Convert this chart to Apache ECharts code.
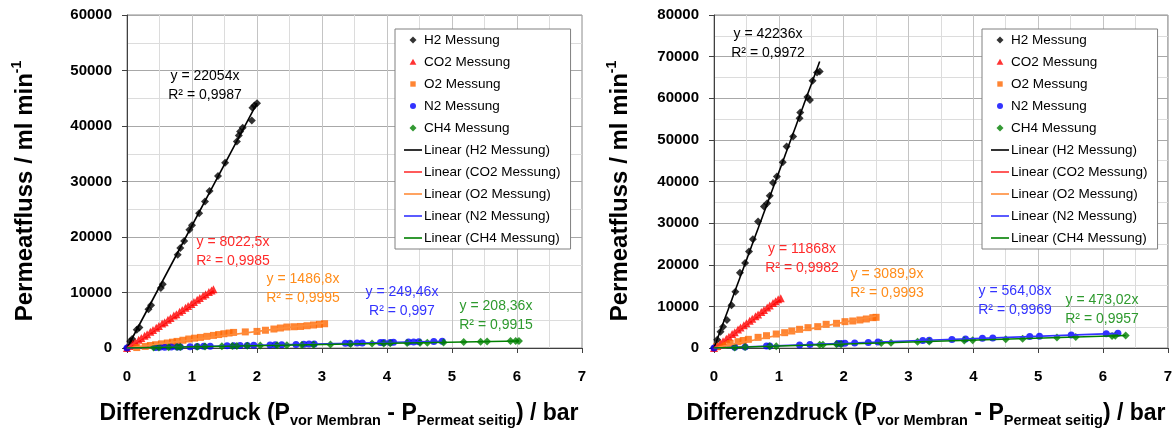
<!DOCTYPE html>
<html>
<head>
<meta charset="utf-8">
<script src="https://cdn.jsdelivr.net/npm/echarts@6/dist/echarts.min.js"></script>
<style>
  html, body { margin: 0; padding: 0; background: #ffffff; }
  #chart { width: 1175px; height: 430px; }
</style>
</head>
<body>
<div id="chart"></div>
<script>
// ---- measured permeate flow vs. pressure difference ----
const gasNames = ['H2 Messung', 'CO2 Messung', 'O2 Messung', 'N2 Messung', 'CH4 Messung'];
const xTickValues = [0, 1, 2, 3, 4, 5, 6, 7];

// left panel: [pressure difference (bar), permeate flow (ml/min)]
const leftH2 = [[0,0],[0.05,1200],[0.08,1600],[0.15,3300],[0.19,3700],[0.33,7000],[0.37,7700],[0.52,10800],[0.55,11500],[0.78,16800],[0.82,18000],[0.88,19300],[0.96,21300],[1.0,22100],[1.11,24300],[1.2,26400],[1.27,28300],[1.4,31000],[1.51,33400],[1.69,37200],[1.72,38300],[1.74,39000],[1.78,39700],[1.92,41000],[1.93,43300],[1.96,43700],[2.0,44100]];
const leftCO2 = [[0,0],[0.04,350],[0.09,760],[0.13,1050],[0.18,1480],[0.22,1800],[0.27,2200],[0.31,2500],[0.36,2950],[0.4,3250],[0.45,3650],[0.49,3950],[0.54,4400],[0.58,4650],[0.63,5100],[0.67,5400],[0.72,5850],[0.76,6100],[0.81,6550],[0.85,6850],[0.9,7250],[0.94,7550],[0.99,7950],[1.03,8300],[1.08,8700],[1.12,9000],[1.17,9400],[1.21,9700],[1.26,10100],[1.3,10350],[1.33,10600]];
const leftO2 = [[0.15,80],[0.28,290],[0.36,450],[0.44,590],[0.53,750],[0.62,900],[0.7,1050],[0.77,1190],[0.86,1400],[0.95,1620],[1.04,1770],[1.13,1910],[1.23,2100],[1.33,2270],[1.41,2420],[1.49,2570],[1.57,2700],[1.64,2810],[1.82,2900],[2.0,2990],[2.13,3200],[2.26,3420],[2.36,3600],[2.46,3780],[2.57,3830],[2.67,3880],[2.77,4010],[2.87,4140],[2.96,4260],[3.04,4370]];
const leftN2 = [[0,0],[0.44,90],[0.5,130],[0.58,140],[0.68,170],[0.77,190],[0.82,200],[0.97,240],[1.08,270],[1.18,300],[1.28,320],[1.54,390],[1.64,410],[1.74,430],[1.85,470],[1.95,490],[2.2,550],[2.28,570],[2.38,600],[2.6,650],[2.72,680],[2.8,700],[2.88,720],[3.36,840],[3.43,860],[3.54,880],[3.62,900],[3.9,980],[3.95,990],[4.05,1010],[4.1,1020],[4.33,1080],[4.41,1100],[4.49,1120],[4.72,1180],[4.85,1210]];
const leftCH4 = [[0.41,80],[0.49,100],[0.64,130],[0.77,160],[0.82,170],[1.08,220],[1.2,250],[1.46,300],[1.62,340],[1.69,350],[1.85,390],[2.05,430],[2.31,480],[2.46,510],[2.69,560],[2.87,600],[3.13,650],[3.44,720],[3.77,790],[3.95,820],[4.05,840],[4.31,900],[4.51,940],[4.62,960],[4.87,1010],[5.18,1080],[5.44,1130],[5.54,1150],[5.9,1240],[5.98,1260],[6.03,1270]];

// right panel
const rightH2 = [[0,0],[0.05,2000],[0.1,3900],[0.14,5100],[0.2,6700],[0.27,10300],[0.33,13500],[0.4,18100],[0.48,20400],[0.54,23200],[0.6,26100],[0.68,30400],[0.77,34000],[0.82,34800],[0.86,36600],[0.91,39700],[0.97,41200],[1.06,44600],[1.12,48400],[1.22,50800],[1.32,55200],[1.33,56600],[1.44,60300],[1.48,59600],[1.52,64200],[1.59,66200],[1.63,66400]];
const rightCO2 = [[0,0],[0.05,500],[0.1,1150],[0.14,1600],[0.19,2250],[0.23,2700],[0.28,3350],[0.32,3800],[0.37,4450],[0.41,4900],[0.46,5450],[0.5,5950],[0.55,6550],[0.59,7000],[0.64,7600],[0.68,8050],[0.73,8650],[0.77,9100],[0.82,9700],[0.86,10200],[0.91,10800],[0.95,11250],[0.99,11700],[1.03,11950]];
const rightO2 = [[0.04,310],[0.14,720],[0.25,1120],[0.37,1520],[0.45,1800],[0.53,2080],[0.68,2560],[0.81,2960],[0.96,3360],[1.09,3680],[1.2,4080],[1.32,4490],[1.45,4890],[1.6,5130],[1.73,5690],[1.89,5930],[2.02,6330],[2.14,6490],[2.25,6730],[2.35,6970],[2.45,7290],[2.5,7370]];
const rightN2 = [[0,0],[0.32,180],[0.48,270],[0.81,460],[0.86,480],[1.32,740],[1.48,830],[1.91,1080],[1.96,1100],[2.02,1140],[2.17,1220],[2.38,1340],[2.53,1430],[3.22,1820],[3.32,1870],[3.67,2070],[3.88,2190],[4.14,2340],[4.3,2420],[4.87,2750],[5.02,2830],[5.51,3110],[6.05,3450],[6.23,3540]];
const rightCH4 = [[0.32,150],[0.48,230],[0.86,410],[0.96,450],[1.63,770],[1.68,790],[1.89,890],[1.96,930],[2.58,1220],[2.73,1290],[3.14,1490],[3.32,1570],[3.86,1830],[3.99,1890],[4.5,2130],[4.76,2250],[5.29,2500],[5.58,2640],[6.14,2900],[6.19,2930],[6.35,3000]];

// fitted slopes (trend line through the origin) and coefficients of determination
const slopesLeft = [22054, 8022.5, 1486.8, 249.46, 208.36];
const r2Left = ['0,9987', '0,9985', '0,9995', '0,997', '0,9915'];
const slopesRight = [42236, 11868, 3089.9, 564.08, 473.02];
const r2Right = ['0,9972', '0,9982', '0,9993', '0,9969', '0,9957'];

const yMaxLeft = 60000;
const yMaxRight = 80000;

// ---- styling ----
const FONT = 'Arial, "Liberation Sans", sans-serif';
const markerColors = ['#000000', '#ff0000', '#ff6600', '#0000ff', '#008000'];
const trendColors = ['#000000', '#ff3333', '#ff8c3a', '#3333ff', '#008000'];
const labelColors = ['#000000', '#ff2a2a', '#ff8c1a', '#3333ff', '#2e9a2e'];
const markerShapes = ['diamond', 'triangle', 'rect', 'circle', 'diamond'];
const markerSizes = [8, 8, 7, 7, 8];
// legend icons drawn inside an 18x14 box (the two leading moves fix the box)
const legendIcons = [
  'path://M0,0M18,14M9,3.5L12.5,7L9,10.5L5.5,7Z',
  'path://M0,0M18,14M9,3.8L12.4,9.8L5.6,9.8Z',
  'path://M0,0M18,14M6.3,4.3H11.7V9.7H6.3Z',
  'path://M0,0M18,14M12,7A3,3,0,1,1,6,7A3,3,0,1,1,12,7Z',
  'path://M0,0M18,14M9,3.5L12.5,7L9,10.5L5.5,7Z'
];
const legendLineIcon = 'path://M0,0M18,14M0,6.2H18V7.8H0Z';
// equation label anchor (centre x, top y) per gas
const eqPosLeft = [[205, 67], [233, 233], [303, 270], [402, 283], [496, 297]];
const eqPosRight = [[768, 25], [802, 240], [887, 265], [1015, 282], [1102, 291]];

const panels = [
  { data: [leftH2, leftCO2, leftO2, leftN2, leftCH4], slopes: slopesLeft, r2: r2Left, yMax: yMaxLeft, gridLeft: 127, eqPos: eqPosLeft, yTitleX: 25 },
  { data: [rightH2, rightCO2, rightO2, rightN2, rightCH4], slopes: slopesRight, r2: r2Right, yMax: yMaxRight, gridLeft: 714, eqPos: eqPosRight, yTitleX: 620 }
];

const grids = [], xAxes = [], yAxes = [], series = [], legends = [], graphics = [];

function fmtNumber(v) { return String(v).replace('.', ','); }

panels.forEach((p, i) => {
  grids.push({ left: p.gridLeft, top: 15, width: 455, height: 333, show: true,
    borderColor: '#8c8c8c', borderWidth: 1, backgroundColor: '#ffffff' });

  xAxes.push({
    gridIndex: i, type: 'value', min: xTickValues[0], max: xTickValues[xTickValues.length - 1], interval: 1,
    axisLine: { show: true, onZero: false, lineStyle: { color: '#404040', width: 1 } },
    axisTick: { show: true, length: 5, lineStyle: { color: '#404040' } },
    axisLabel: { color: '#000', fontFamily: FONT, fontWeight: 'bold', fontSize: 15, margin: 21 },
    splitLine: { show: true, lineStyle: { color: '#c4c4c4', width: 1 } },
    minorTick: { show: false, splitNumber: 2 },
    minorSplitLine: { show: true, lineStyle: { color: '#dcdcdc', width: 1 } }
  });

  yAxes.push({
    gridIndex: i, type: 'value', min: 0, max: p.yMax, interval: 10000,
    axisLine: { show: true, onZero: false, lineStyle: { color: '#404040', width: 1 } },
    axisTick: { show: true, length: 5, lineStyle: { color: '#404040' } },
    axisLabel: { color: '#000', fontFamily: FONT, fontWeight: 'bold', fontSize: 15, margin: 15,
      formatter: v => String(v) },
    splitLine: { show: true, lineStyle: { color: '#a8a8a8', width: 1 } },
    minorTick: { show: false, splitNumber: 2 },
    minorSplitLine: { show: true, lineStyle: { color: '#dcdcdc', width: 1 } }
  });

  // measured points
  p.data.forEach((pts, g) => {
    series.push({
      name: gasNames[g], type: 'scatter', xAxisIndex: i, yAxisIndex: i,
      data: pts, symbol: markerShapes[g], symbolSize: markerSizes[g],
      itemStyle: { color: markerColors[g] }, z: 3
    });
  });

  // linear trend lines y = k·x from the origin up to the largest measured pressure
  p.data.forEach((pts, g) => {
    const xEnd = Math.max(...pts.map(d => d[0]));
    series.push({
      name: 'Linear (' + gasNames[g] + ')', type: 'line', xAxisIndex: i, yAxisIndex: i,
      data: [[0, 0], [xEnd, p.slopes[g] * xEnd]],
      symbol: 'none', silent: true,
      lineStyle: { color: trendColors[g], width: 1.6 },
      itemStyle: { color: trendColors[g] }, z: 4
    });
  });

  legends.push({
    orient: 'vertical', left: p.gridLeft + 268, top: 29,
    itemWidth: 18, itemHeight: 14, itemGap: 8,
    padding: [4, 10, 4, 9],
    backgroundColor: '#ffffff', borderColor: '#808080', borderWidth: 1,
    textStyle: { color: '#000', fontFamily: FONT, fontSize: 13.5, lineHeight: 14, padding: [0, 0, 0, -3] },
    selectedMode: false,
    data: gasNames.map((n, g) => ({ name: n, icon: legendIcons[g] }))
      .concat(gasNames.map(n => ({ name: 'Linear (' + n + ')', icon: legendLineIcon })))
  });

  // equation labels
  p.slopes.forEach((k, g) => {
    graphics.push({
      type: 'text', x: p.eqPos[g][0], y: p.eqPos[g][1], z: 100,
      style: {
        text: 'y = ' + fmtNumber(k) + 'x\nR² = ' + p.r2[g],
        align: 'center', verticalAlign: 'top',
        fill: labelColors[g], fontFamily: FONT, fontSize: 14, lineHeight: 19
      }
    });
  });

  // axis titles
  const plotCentre = p.gridLeft + 227.5;
  graphics.push({
    type: 'text', x: plotCentre - 15.5, y: 399, z: 100,
    style: {
      text: '{m|Differenzdruck (P}{s|vor Membran}{m| - P}{s|Permeat seitig}{m|) / bar}',
      align: 'center', verticalAlign: 'top',
      rich: {
        m: { fontFamily: FONT, fontWeight: 'bold', fontSize: 23, lineHeight: 29, fill: '#000' },
        s: { fontFamily: FONT, fontWeight: 'bold', fontSize: 14.5, lineHeight: 19, verticalAlign: 'bottom', fill: '#000' }
      }
    }
  });
  graphics.push({
    type: 'text', x: p.yTitleX, y: 191, rotation: Math.PI / 2, z: 100,
    style: {
      text: '{m|Permeatfluss / ml min}{p|-1}',
      align: 'center', verticalAlign: 'middle',
      rich: {
        m: { fontFamily: FONT, fontWeight: 'bold', fontSize: 24, lineHeight: 30, fill: '#000' },
        p: { fontFamily: FONT, fontWeight: 'bold', fontSize: 14, lineHeight: 15, verticalAlign: 'top', fill: '#000' }
      }
    }
  });
});

const chart = echarts.init(document.getElementById('chart'), null, { renderer: 'canvas' });
chart.setOption({
  animation: false,
  backgroundColor: '#ffffff',
  grid: grids,
  xAxis: xAxes,
  yAxis: yAxes,
  legend: legends,
  series: series,
  graphic: graphics
});
</script>
</body>
</html>
